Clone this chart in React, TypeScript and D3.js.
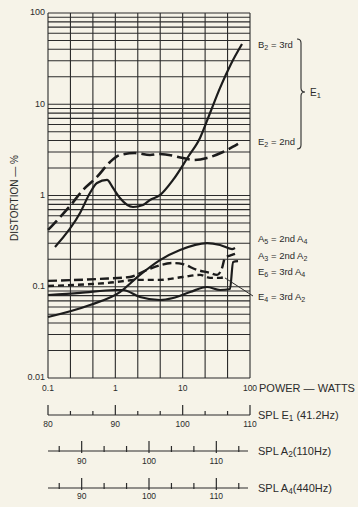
import React from "react";
import * as d3 from "d3";

const W = 358;
const H = 507;

// Power (W) and distortion (%) readings per curve
const b2Power = [0.127, 0.299, 0.42, 0.534, 0.752, 0.923, 1.17, 1.83, 2.58, 3.27, 4.6, 7.19, 12.0, 18.1, 25.5, 35.9, 52.2, 76.1];
const b2Dist = [0.273, 0.643, 1.065, 1.37, 1.48, 1.21, 0.939, 0.748, 0.787, 0.893, 1.01, 1.48, 2.64, 4.27, 8.02, 15.1, 27.6, 45.7];

const e2Power = [0.1, 0.212, 0.331, 0.534, 0.834, 1.17, 1.96, 3.27, 4.6, 10.1, 14.3, 23.0, 39.7, 66.4];
const e2Dist = [0.419, 0.767, 1.15, 1.6, 2.33, 2.78, 2.92, 2.78, 2.85, 2.58, 2.45, 2.58, 3.0, 3.67];

const a5Power = [0.1, 0.42, 1.17, 2.32, 4.6, 9.13, 23.0, 35.9, 54.1, 59.9];
const a5Dist = [0.0466, 0.0631, 0.0875, 0.135, 0.196, 0.253, 0.301, 0.287, 0.259, 0.266];

const a3Power = [0.1, 0.592, 1.65, 2.95, 7.19, 10.1, 16.3, 25.5, 32.4, 38.4, 42.5, 54.1, 59.9];
const a3Dist = [0.116, 0.122, 0.128, 0.153, 0.182, 0.177, 0.153, 0.142, 0.135, 0.16, 0.207, 0.223, 0.229];

const e6Power = [0.1, 0.752, 2.32, 4.6, 10.1, 18.1, 25.5, 35.9, 42.5];
const e6Dist = [0.102, 0.11, 0.119, 0.119, 0.128, 0.135, 0.125, 0.125, 0.128];

const e4Power = [0.1, 0.299, 0.99, 1.3, 2.32, 4.6, 7.19, 12.9, 23.0, 35.9, 50.5, 56.0, 66.4];
const e4Dist = [0.0812, 0.0855, 0.0921, 0.0921, 0.0773, 0.0716, 0.0753, 0.0875, 0.0994, 0.0921, 0.0944, 0.187, 0.191];

const yTickLabels = ["100", "10", "1", "0.1", "0.01"];
const yTickValues = [100, 10, 1, 0.1, 0.01];
const xTickLabels = ["0.1", "1", "10", "100"];
const xTickValues = [0.1, 1, 10, 100];

const splE1Domain = [80, 110];
const splE1Labels = [80, 90, 100, 110];
const splADomain = [85, 115];
const splALabels = [90, 100, 110];

const FONT = "'Liberation Sans', Arial, sans-serif";
const INK = "#2b2b2b";
const BG = "#f6f3e8";

type Part = [string, boolean];
const Label = ({ x, y, parts, size = 10, anchor = "start", weight = 400 }: { x: number; y: number; parts: Part[]; size?: number; anchor?: string; weight?: number }) => {
  let sub = false;
  return (
    <text x={x} y={y} fontFamily={FONT} fontSize={size} fill={INK} textAnchor={anchor} dominantBaseline="middle" fontWeight={weight}>
      {parts.map(([t, isSub], i) => {
        let dy = 0;
        if (isSub && !sub) dy = size * 0.3;
        if (!isSub && sub) dy = -size * 0.3;
        sub = isSub;
        return (
          <tspan key={i} dy={dy} fontSize={isSub ? size * 0.75 : size}>
            {t}
          </tspan>
        );
      })}
    </text>
  );
};

export default function App() {
  const x = d3.scaleLog().domain([0.1, 100]).range([48, 250]);
  const y = d3.scaleLog().domain([0.01, 100]).range([378, 13]);

  const line = (ps: number[], ds: number[]) =>
    d3
      .line<number>()
      .x((_, i) => x(ps[i]))
      .y((_, i) => y(ds[i]))
      .curve(d3.curveMonotoneX)(ps) || "";

  const vGrid = d3.range(0, 10).map((i) => 0.1 * Math.pow(10, i / 3));
  const hGrid: number[] = [];
  [0.01, 0.1, 1, 10].forEach((dec) => {
    for (let k = 1; k <= 9; k++) hGrid.push(dec * k);
  });
  hGrid.push(100);

  const sE1 = d3.scaleLinear().domain(splE1Domain).range([48, 250]);
  const sA = d3.scaleLinear().domain(splADomain).range([48, 250]);
  const e1Ticks = d3.range(80, 110.01, 10 / 3);
  const aTicks = d3.range(85 + 5 / 3, 115, 10 / 3);

  const curveStroke = "#1c1c1c";

  const aScale = (base: number, labelY: number, title: Part[]) => (
    <g>
      <line x1={48} x2={248} y1={base} y2={base} stroke={INK} strokeWidth={1.2} />
      {aTicks.map((t, i) => {
        const major = splALabels.some((m) => Math.abs(m - t) < 0.01);
        return <line key={i} x1={sA(t)} x2={sA(t)} y1={base - (major ? 10 : 5)} y2={base + (major ? 2 : 1)} stroke={INK} strokeWidth={1.2} />;
      })}
      {splALabels.map((m) => (
        <text key={m} x={sA(m)} y={labelY} fontFamily={FONT} fontSize={8.5} fill={INK} textAnchor="middle" dominantBaseline="middle">
          {m}
        </text>
      ))}
      <Label x={258} y={base + 1} parts={title} size={11} />
    </g>
  );

  return (
    <svg width={W} height={H} style={{ position: "absolute", left: 0, top: 0 }}>
      <rect x={0} y={0} width={W} height={H} fill={BG} />
      {/* grid */}
      <g stroke={INK} strokeWidth={1.1}>
        {hGrid.map((v, i) => (
          <line key={"h" + i} x1={48} x2={250} y1={y(v)} y2={y(v)} />
        ))}
        {vGrid.map((v, i) => (
          <line key={"v" + i} x1={x(v)} x2={x(v)} y1={y(100)} y2={y(0.01)} />
        ))}
      </g>
      {/* y labels */}
      {yTickValues.map((v, i) => (
        <text key={v} x={45} y={y(v)} fontFamily={FONT} fontSize={9} fill={INK} textAnchor="end" dominantBaseline="middle">
          {yTickLabels[i]}
        </text>
      ))}
      <text transform={`translate(15,${198}) rotate(-90)`} fontFamily={FONT} fontSize={10} fill={INK} textAnchor="middle" dominantBaseline="middle">
        DISTORTION — %
      </text>
      {/* x labels */}
      {xTickValues.map((v, i) => (
        <text key={v} x={x(v)} y={389} fontFamily={FONT} fontSize={8.5} fill={INK} textAnchor="middle" dominantBaseline="middle">
          {xTickLabels[i]}
        </text>
      ))}
      <text x={259} y={389} fontFamily={FONT} fontSize={11} fill={INK} dominantBaseline="middle">
        POWER — WATTS
      </text>

      {/* curves */}
      <g fill="none" stroke={curveStroke} strokeLinecap="butt" strokeLinejoin="round">
        <path d={line(b2Power, b2Dist)} strokeWidth={2.2} />
        <path d={line(e2Power, e2Dist)} strokeWidth={2.6} strokeDasharray="13,5" />
        <path d={line(a5Power, a5Dist)} strokeWidth={2.2} />
        <path d={line(a3Power, a3Dist)} strokeWidth={2.4} strokeDasharray="9,4" />
        <path d={line(e6Power, e6Dist)} strokeWidth={2.4} strokeDasharray="6,4" />
        <path d={line(e4Power, e4Dist)} strokeWidth={2.2} />
      </g>
      {/* leader */}
      <line x1={x(42.5)} y1={y(0.125)} x2={253} y2={296} stroke={INK} strokeWidth={1} />

      {/* right labels */}
      <Label x={258} y={45} size={9.5} parts={[["B", false], ["2", true], [" = 3rd", false]]} />
      <Label x={258} y={142} size={9.5} parts={[["E", false], ["2", true], [" = 2nd", false]]} />
      <path d="M297,39 Q301,39 301,43 L301,88 Q301,92 305,92 Q301,92 301,96 L301,145 Q301,149 297,149" fill="none" stroke={INK} strokeWidth={1.1} />
      <Label x={310} y={93} parts={[["E", false], ["1", true]]} />
      <Label x={258} y={239} size={9.5} parts={[["A", false], ["5", true], [" = 2nd A", false], ["4", true]]} />
      <Label x={258} y={256} size={9.5} parts={[["A", false], ["3", true], [" = 2nd A", false], ["2", true]]} />
      <Label x={258} y={272} size={9.5} parts={[["E", false], ["6", true], [" = 3rd A", false], ["4", true]]} />
      <Label x={258} y={297} size={9.5} parts={[["E", false], ["4", true], [" = 3rd A", false], ["2", true]]} />

      {/* SPL E1 scale */}
      <g>
        <line x1={48} x2={250} y1={415} y2={415} stroke={INK} strokeWidth={1.2} />
        {e1Ticks.map((t, i) => {
          const major = splE1Labels.some((m) => Math.abs(m - t) < 0.01);
          return <line key={i} x1={sE1(t)} x2={sE1(t)} y1={415 - (major ? 10 : 4)} y2={415} stroke={INK} strokeWidth={1.2} />;
        })}
        {splE1Labels.map((m) => (
          <text key={m} x={sE1(m)} y={425} fontFamily={FONT} fontSize={8.5} fill={INK} textAnchor="middle" dominantBaseline="middle">
            {m}
          </text>
        ))}
        <Label x={258} y={416} size={11} parts={[["SPL E", false], ["1", true], [" (41.2Hz)", false]]} />
      </g>
      {aScale(451, 462, [["SPL A", false], ["2", true], ["(110Hz)", false]])}
      {aScale(488, 497, [["SPL A", false], ["4", true], ["(440Hz)", false]])}
    </svg>
  );
}
